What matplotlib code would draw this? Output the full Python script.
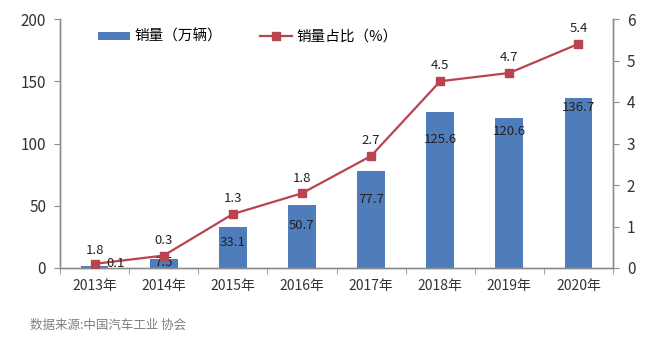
import matplotlib
matplotlib.use('Agg')
import matplotlib.pyplot as plt

plt.rcParams['font.family'] = ['Noto Sans CJK SC', 'DejaVu Sans']

years = ['2013年', '2014年', '2015年', '2016年', '2017年', '2018年', '2019年', '2020年']
sales = [1.8, 7.5, 33.1, 50.7, 77.7, 125.6, 120.6, 136.7]   # 万辆
share = [0.1, 0.3, 1.3, 1.8, 2.7, 4.5, 4.7, 5.4]            # %

blue = '#4f7dbb'
red = '#b9434f'
grey = '#8c8c8c'

fig = plt.figure(figsize=(6.48, 3.45), dpi=100)
ax = fig.add_axes([60/648, 77/345, 553/648, 249/345])
ax2 = ax.twinx()

x = list(range(len(years)))
bars = ax.bar(x, sales, width=0.4, color=blue, label='销量（万辆）', zorder=2)
line, = ax2.plot(x, share, color=red, lw=1.6, marker='s', ms=5.5,
                 markerfacecolor=red, markeredgecolor=red, label='销量占比（%）', zorder=3)

ax.set_xlim(-0.5, 7.5)
ax.set_ylim(0, 200)
ax2.set_ylim(0, 6)
ax.set_yticks([0, 50, 100, 150, 200])
ax2.set_yticks(range(7))

ax.set_xticks(x)
ax.set_xticklabels(years, fontsize=10, color='#333333')
ax.set_xticks([i - 0.5 for i in range(len(years) + 1)], minor=True)
ax.tick_params(axis='x', which='major', length=0, pad=8)
ax.tick_params(axis='x', which='minor', length=4, color=grey)
ax.tick_params(axis='y', length=4, color=grey, labelsize=11, labelcolor='#333333', pad=6)
ax2.tick_params(axis='y', length=4, color=grey, labelsize=11, labelcolor='#333333', pad=6)

for a in (ax, ax2):
    a.spines['top'].set_visible(False)
    for s in ('left', 'right', 'bottom'):
        a.spines[s].set_color(grey)
        a.spines[s].set_linewidth(1)

# bar values, mostly inside the top of each bar (the 2013 one sits above)
bar_off = [11, -3, -11.5, -15, -20, -20, -10, -7]
for xi, v, off in zip(x, sales, bar_off):
    ax.annotate(f'{v:g}', (xi, v), xytext=(0, off), textcoords='offset points',
                ha='center', va='center', fontsize=9.5, color='#222222', zorder=4)

# share values above the markers (2013 sits to the right)
for xi, v in zip(x, share):
    if xi == 0:
        ax2.annotate(f'{v:g}', (xi, v), xytext=(15, 0), textcoords='offset points',
                     ha='center', va='center', fontsize=9.5, color='#222222', zorder=4)
    else:
        ax2.annotate(f'{v:g}', (xi, v), xytext=(0, 11), textcoords='offset points',
                     ha='center', va='center', fontsize=9.5, color='#222222', zorder=4)

ax.legend([bars, line], ['销量（万辆）', '销量占比（%）'], ncol=2, frameon=False,
          loc='upper left', bbox_to_anchor=(0.045, 1.01), fontsize=10.5,
          handlelength=2.2, handleheight=0.5, columnspacing=2.6, handletextpad=0.3)

fig.text(30/648, 1 - 325/345, '数据来源:中国汽车工业 协会', fontsize=9, color='#7f7f7f',
         va='center', ha='left')

fig.savefig('out.png', dpi=100)
